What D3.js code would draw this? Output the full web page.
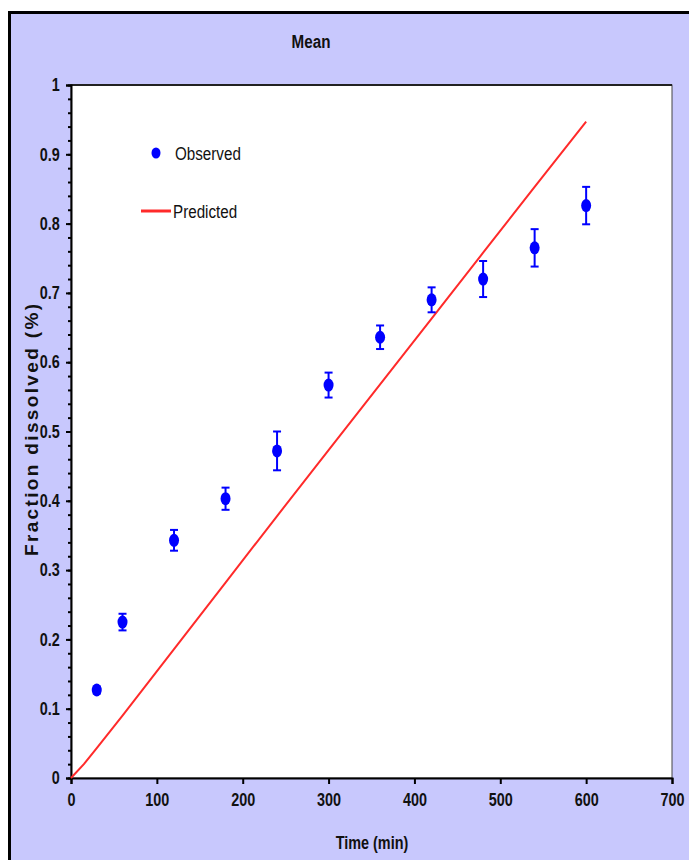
<!DOCTYPE html>
<html>
<head>
<meta charset="utf-8">
<script src="https://cdn.jsdelivr.net/npm/d3@7"></script>
<style>
  body { margin: 0; background: #ffffff; }
  svg { display: block; }
</style>
</head>
<body>
<div id="chart-container"></div>
<script>
// observed data (time in min, mean fraction, error half-width)
var obsTime = [30, 60, 120, 180, 240, 300, 360, 420, 480, 540, 600];
var obsMean = [0.127, 0.225, 0.343, 0.403, 0.472, 0.567, 0.636, 0.690, 0.720, 0.765, 0.826];
var obsErr  = [0.005, 0.012, 0.015, 0.016, 0.028, 0.018, 0.017, 0.018, 0.026, 0.027, 0.027];

// predicted curve
var predTime = [0, 15, 30, 60, 120, 180, 240, 300, 360, 420, 480, 540, 600];
var predVal  = [0, 0.020, 0.043, 0.090, 0.186, 0.282, 0.378, 0.473, 0.568, 0.663, 0.758, 0.853, 0.947];

// tick values
var xTicks = [0, 100, 200, 300, 400, 500, 600, 700];
var yTicks = [0, 0.1, 0.2, 0.3, 0.4, 0.5, 0.6, 0.7, 0.8, 0.9, 1];
var yMinor = d3.range(0, 51).map(function (i) { return i / 50; });

var width = 689;
var height = 860;
var plotLeft = 71, plotRight = 672, plotTop = 85, plotBottom = 778;

var sans = "'Liberation Sans', Arial, sans-serif";
var squeeze = "scale(0.8,1)";  // narrow look like Arial Narrow

var svg = d3.select("#chart-container").append("svg")
  .attr("width", width)
  .attr("height", height);

// lavender background with black frame
svg.append("rect")
  .attr("x", 0).attr("y", 0)
  .attr("width", width).attr("height", height)
  .attr("fill", "#ffffff");
svg.append("rect")
  .attr("x", 9.5).attr("y", 12.5)
  .attr("width", 700).attr("height", 870)
  .attr("fill", "#c8c8fd")
  .attr("stroke", "#000")
  .attr("stroke-width", 3);

// scales
var x = d3.scaleLinear().domain([0, 700]).range([plotLeft, plotRight]);
var y = d3.scaleLinear().domain([0, 1]).range([plotBottom, plotTop]);

// white plot area
svg.append("rect")
  .attr("x", plotLeft).attr("y", plotTop)
  .attr("width", plotRight - plotLeft).attr("height", plotBottom - plotTop)
  .attr("fill", "#ffffff")
  .attr("stroke", "#444")
  .attr("stroke-width", 1);
// thicker top edge
svg.append("line")
  .attr("x1", plotLeft).attr("x2", plotRight)
  .attr("y1", plotTop).attr("y2", plotTop)
  .attr("stroke", "#222").attr("stroke-width", 2);

// x axis
var xAxis = svg.append("g")
  .attr("transform", "translate(0," + plotBottom + ")")
  .call(d3.axisBottom(x).tickValues(xTicks).tickSize(6).tickPadding(9).tickFormat(d3.format("d")));
xAxis.select(".domain").attr("stroke", "#000").attr("stroke-width", 2);
xAxis.selectAll(".tick line").attr("stroke", "#000").attr("stroke-width", 2);
xAxis.selectAll("text")
  .attr("font-family", sans)
  .attr("font-weight", "bold")
  .attr("font-size", 18)
  .attr("transform", squeeze)
  .attr("fill", "#111");

// y axis minor ticks
var yMinorAxis = svg.append("g")
  .attr("transform", "translate(" + plotLeft + ",0)")
  .call(d3.axisLeft(y).tickValues(yMinor).tickSize(3).tickFormat(""));
yMinorAxis.select(".domain").remove();
yMinorAxis.selectAll(".tick line").attr("stroke", "#000").attr("stroke-width", 2);

// y axis major
var yAxis = svg.append("g")
  .attr("transform", "translate(" + plotLeft + ",0)")
  .call(d3.axisLeft(y).tickValues(yTicks).tickSize(5).tickPadding(9).tickFormat(function (d) { return d === 0 || d === 1 ? d : d3.format(".1f")(d); }));
yAxis.select(".domain").attr("stroke", "#000").attr("stroke-width", 2);
yAxis.selectAll(".tick line").attr("stroke", "#000").attr("stroke-width", 2);
yAxis.selectAll("text")
  .attr("font-family", sans)
  .attr("font-weight", "bold")
  .attr("font-size", 18)
  .attr("transform", squeeze)
  .attr("fill", "#111");

// predicted line
var line = d3.line()
  .x(function (d, i) { return x(predTime[i]); })
  .y(function (d) { return y(d); });
svg.append("path")
  .datum(predVal)
  .attr("d", line)
  .attr("fill", "none")
  .attr("stroke", "#ff2a2a")
  .attr("stroke-width", 2);

// observed points with error bars
var obs = obsTime.map(function (t, i) { return { t: t, m: obsMean[i], e: obsErr[i] }; });
var pts = svg.append("g").selectAll("g")
  .data(obs)
  .enter().append("g");
pts.append("line")
  .attr("x1", function (d) { return x(d.t); })
  .attr("x2", function (d) { return x(d.t); })
  .attr("y1", function (d) { return y(d.m - d.e); })
  .attr("y2", function (d) { return y(d.m + d.e); })
  .attr("stroke", "#0000ff").attr("stroke-width", 2);
pts.selectAll(".cap")
  .data(function (d) { return [{ t: d.t, v: d.m - d.e }, { t: d.t, v: d.m + d.e }]; })
  .enter().append("line")
  .attr("class", "cap")
  .attr("x1", function (d) { return x(d.t) - 4; })
  .attr("x2", function (d) { return x(d.t) + 4; })
  .attr("y1", function (d) { return y(d.v); })
  .attr("y2", function (d) { return y(d.v); })
  .attr("stroke", "#0000ff").attr("stroke-width", 2);
pts.append("ellipse")
  .attr("cx", function (d) { return x(d.t); })
  .attr("cy", function (d) { return y(d.m); })
  .attr("rx", 5)
  .attr("ry", 6.5)
  .attr("fill", "#0000ff");

// legend
var legend = svg.append("g");
legend.append("ellipse")
  .attr("cx", 156).attr("cy", 153)
  .attr("rx", 4.5).attr("ry", 5.5)
  .attr("fill", "#0000ff");
legend.append("text")
  .attr("transform", "translate(175,160) " + squeeze)
  .attr("font-family", sans)
  .attr("font-size", 19)
  .attr("fill", "#111")
  .text("Observed");
legend.append("line")
  .attr("x1", 141).attr("x2", 171)
  .attr("y1", 211).attr("y2", 211)
  .attr("stroke", "#ff2a2a").attr("stroke-width", 3);
legend.append("text")
  .attr("transform", "translate(173,218) " + squeeze)
  .attr("font-family", sans)
  .attr("font-size", 19)
  .attr("fill", "#111")
  .text("Predicted");

// title
svg.append("text")
  .attr("transform", "translate(311,48) " + squeeze)
  .attr("text-anchor", "middle")
  .attr("font-family", sans)
  .attr("font-weight", "bold")
  .attr("font-size", 19)
  .attr("fill", "#111")
  .text("Mean");

// x axis title
svg.append("text")
  .attr("transform", "translate(372,849) " + squeeze)
  .attr("text-anchor", "middle")
  .attr("font-family", sans)
  .attr("font-weight", "bold")
  .attr("font-size", 18)
  .attr("fill", "#111")
  .text("Time (min)");

// y axis title
svg.append("text")
  .attr("transform", "translate(38,430) rotate(-90)")
  .attr("text-anchor", "middle")
  .attr("font-family", sans)
  .attr("font-weight", "bold")
  .attr("font-size", 19)
  .attr("textLength", 252)
  .attr("lengthAdjust", "spacing")
  .attr("fill", "#111")
  .text("Fraction dissolved (%)");
</script>
</body>
</html>
